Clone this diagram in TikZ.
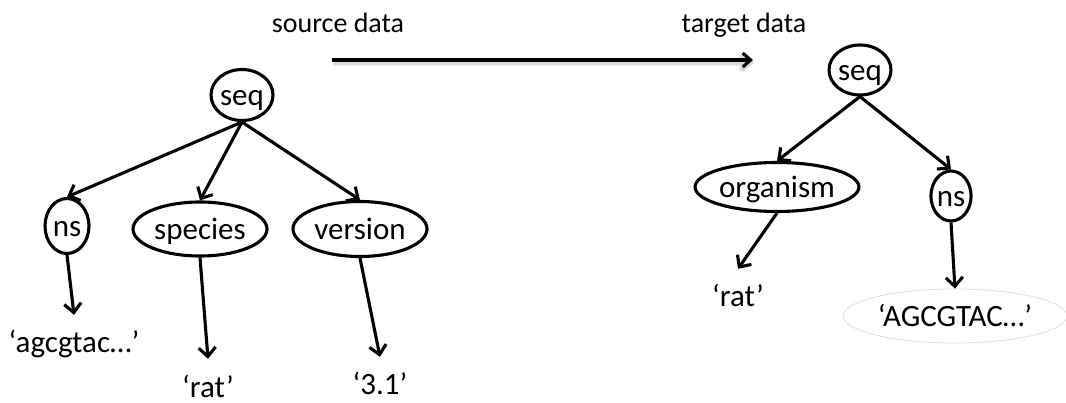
\documentclass[tikz,border=0pt]{standalone}
\usepackage{fontspec}
\setmainfont{Carlito}
\usetikzlibrary{shapes.geometric,arrows.meta}
\begin{document}
\begin{tikzpicture}[x=1pt,y=-1pt,
  lbl/.style={font=\fontsize{31}{37}\selectfont},
  tag/.style={ellipse,draw,line width=3.1pt,inner sep=0pt,lbl,text height=21pt,text depth=0pt},
  leaf/.style={lbl,inner sep=0pt,text height=38pt,text depth=0pt,anchor=base},
  link/.style={-{Straight Barb[length=9pt,width=17pt]},line width=3.1pt},
  title/.style={font=\fontsize{28}{34}\selectfont,anchor=base},
  haze/.style={-{Straight Barb[length=9pt,width=15pt]},draw=#1}]
\useasboundingbox (0,0) rectangle (1066,403);

% headings and the transfer arrow with its soft shadow
\node[title] (src) at (338,33) {source data};
\node[title] (tgt) at (744,33) {target data};
\coordinate (flowA) at (332,60);
\coordinate (flowB) at (753,60);
\draw[haze=black!7,line width=7pt] ([shift={(1,3)}]flowA) -- ([shift={(1,3)}]flowB);
\draw[haze=black!14,line width=4.5pt] ([shift={(1,2.5)}]flowA) -- ([shift={(1,2.5)}]flowB);
\draw[-{Straight Barb[length=8pt,width=14pt]},line width=3.1pt] (flowA) -- (flowB);

% source tree
\node[tag,minimum width=58pt,minimum height=51pt] (sL) at (242,95) {seq};
\node[tag,minimum width=44pt,minimum height=55pt] (nsL) at (67,226) {ns};
\node[tag,minimum width=134pt,minimum height=54pt] (spec) at (200,229) {species};
\node[tag,minimum width=134pt,minimum height=55pt] (ver) at (360,229) {version};
\node[leaf] (agc) at (74,353) {‘agcgtac…’};
\node[leaf] (ratL) at (208,397) {‘rat’};
\node[leaf] (vnum) at (380,395) {‘3.1’};

\draw[link] (sL.south) -- (nsL.north);
\draw[link] (sL.south) -- (spec.north);
\draw[link] (sL.south) -- (ver.north);
\draw[link] (nsL.south) -- (agc.north);
\draw[link] (spec.south) -- (ratL.north);
\draw[link] (ver.south) -- (vnum.north);

% target tree
\node[tag,minimum width=59pt,minimum height=50pt] (sR) at (860,70) {seq};
\node[tag,minimum width=152pt,minimum height=49pt] (org) at (777,187) {organism};
\node[tag,minimum width=40pt,minimum height=50pt] (nsR) at (951,196) {ns};
\node[leaf] (ratR) at (738,307) {‘rat’};
\node[ellipse,draw=black!13,line width=0.8pt,inner sep=0pt,lbl,text height=21pt,text depth=0pt,
      minimum width=224pt,minimum height=54pt] (AGC) at (955,316) {‘AGCGTAC…’};

\draw[link] (sR.south) -- (org.north);
\draw[link] (sR.south) -- (nsR.north);
\draw[link] (org.south) -- (ratR.north);
\draw[link] (nsR.south) -- (AGC.north);
\end{tikzpicture}
\end{document}
